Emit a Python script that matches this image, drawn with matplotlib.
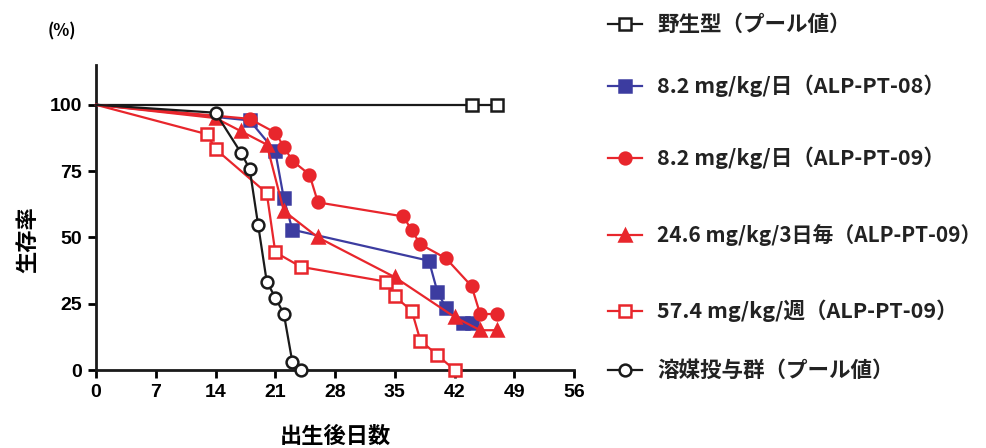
import matplotlib
matplotlib.use("Agg")
import matplotlib.pyplot as plt
from matplotlib.lines import Line2D

plt.rcParams['font.family'] = ['Noto Sans CJK JP', 'DejaVu Sans']

RED = '#e8262c'
BLUE = '#3c3ca0'
BLACK = '#1a1a1a'

# survival curves (day after birth, % alive)
wt_days = [0, 44, 47]
wt_surv = [100, 100, 100]

pt08_days = [0, 18, 21, 22, 23, 39, 40, 41, 43, 44]
pt08_surv = [100, 94.1, 82.4, 64.7, 52.9, 41.2, 29.4, 23.5, 17.6, 17.6]

pt09_daily_days = [0, 18, 21, 22, 23, 25, 26, 36, 37, 38, 41, 44, 45, 47]
pt09_daily_surv = [100, 94.7, 89.5, 84.2, 78.9, 73.7, 63.2, 57.9, 52.6, 47.4,
                   42.1, 31.6, 21.1, 21.1]

pt09_3day_days = [0, 14, 17, 20, 22, 26, 35, 42, 45, 47]
pt09_3day_surv = [100, 95, 90, 85, 60, 50, 35, 20, 15, 15]

pt09_week_days = [0, 13, 14, 20, 21, 24, 34, 35, 37, 38, 40, 42]
pt09_week_surv = [100, 88.9, 83.3, 66.7, 44.4, 38.9, 33.3, 27.8, 22.2, 11.1,
                  5.6, 0]

veh_days = [0, 14, 17, 18, 19, 20, 21, 22, 23, 24]
veh_surv = [100, 97.0, 81.8, 75.8, 54.5, 33.3, 27.3, 21.2, 3.0, 0]

x_ticks = [0, 7, 14, 21, 28, 35, 42, 49, 56]
y_ticks = [0, 25, 50, 75, 100]

labels = [
    '野生型（プール値）',
    '8.2 mg/kg/日（ALP-PT-08）',
    '8.2 mg/kg/日（ALP-PT-09）',
    '24.6 mg/kg/3日毎（ALP-PT-09）',
    '57.4 mg/kg/週（ALP-PT-09）',
    '溶媒投与群（プール値）',
]
label_sizes = [15.5, 15.5, 15.5, 15, 15.5, 15.5]

styles = [
    dict(color=BLACK, marker='s', mfc='white', mec=BLACK),
    dict(color=BLUE, marker='s', mfc=BLUE, mec=BLUE),
    dict(color=RED, marker='o', mfc=RED, mec=RED),
    dict(color=RED, marker='^', mfc=RED, mec=RED),
    dict(color=RED, marker='s', mfc='white', mec=RED),
    dict(color=BLACK, marker='o', mfc='white', mec=BLACK),
]

series = [
    (wt_days, wt_surv),
    (pt08_days, pt08_surv),
    (pt09_daily_days, pt09_daily_surv),
    (pt09_3day_days, pt09_3day_surv),
    (pt09_week_days, pt09_week_surv),
    (veh_days, veh_surv),
]


def msize(st):
    return 8 if st['marker'] == '^' else 8.5


fig = plt.figure(figsize=(9.87, 4.48), dpi=100)
ax = fig.add_axes([0.0973, 0.1741, 0.4843, 0.6808])

for (d, s), st in zip(series, styles):
    ax.plot(d, s, lw=1.6, ms=msize(st), mew=1.8,
            markevery=list(range(1, len(d))),
            clip_on=False, zorder=3, **st)

ax.set_xlim(0, 56)
ax.set_ylim(0, 115)
ax.set_xticks(x_ticks)
ax.set_yticks(y_ticks)
ax.tick_params(width=2, length=6, direction='out', pad=4)
for lab in ax.get_xticklabels() + ax.get_yticklabels():
    lab.set_fontsize(14)
    lab.set_fontweight('bold')
    lab.set_family(['Liberation Sans', 'DejaVu Sans'])
for side in ['top', 'right']:
    ax.spines[side].set_visible(False)
for side in ['left', 'bottom']:
    ax.spines[side].set_linewidth(2)
    ax.spines[side].set_color(BLACK)

fig.text(28 / 987, 1 - 240 / 448, '生存率', rotation=90, ha='center',
         va='center', fontsize=16, fontweight='bold')
fig.text(335 / 987, 1 - 436 / 448, '出生後日数', ha='center', va='center',
         fontsize=16, fontweight='bold')
fig.text(62 / 987, 1 - 31 / 448, '(%)', ha='center', va='center',
         fontsize=12, fontweight='bold')

# hand-placed legend on the right
rows_y = [24, 86, 158, 235, 311, 370]
for y, st, text, fs in zip(rows_y, styles, labels, label_sizes):
    yf = 1 - y / 448
    fig.add_artist(Line2D([608 / 987, 642 / 987], [yf, yf], lw=1.6,
                          color=st['color'], transform=fig.transFigure))
    fig.add_artist(Line2D([625 / 987], [yf], marker=st['marker'],
                          ms=msize(st), mfc=st['mfc'], mec=st['mec'],
                          mew=1.8, ls='none', transform=fig.transFigure))
    fig.text(657 / 987, yf, text, ha='left', va='center', fontsize=fs,
             fontweight='bold', color='#222222')

fig.savefig('out.png', dpi=100)
